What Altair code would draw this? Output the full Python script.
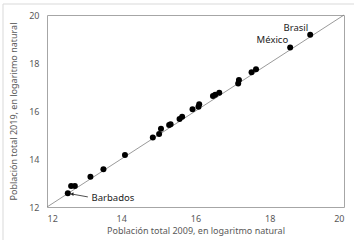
import altair as alt
import pandas as pd

# Data
pop_2009 = [12.56, 12.65, 12.75, 13.17, 13.52, 14.10, 14.85, 15.02, 15.07, 15.29, 15.33,
            15.57, 15.64, 15.92, 16.08, 16.10, 16.47, 16.53, 16.64, 17.15, 17.17,
            17.51, 17.63, 18.55, 19.09]
pop_2019 = [12.57, 12.875, 12.875, 13.26, 13.57, 14.17, 14.90, 15.04, 15.26, 15.42, 15.45,
            15.67, 15.76, 16.07, 16.18, 16.28, 16.62, 16.68, 16.76, 17.15, 17.29,
            17.61, 17.74, 18.65, 19.18]
diag = [12, 20]
ticks = [12, 14, 16, 18, 20]

label_names = ["Brasil", "México"]
label_x = [19.09, 18.55]
label_y = [19.18, 18.65]

barb_name = ["Barbados"]
barb_text_x = [13.20]
barb_text_y = [12.36]
barb_arrow_from = [13.10]
barb_arrow_from_y = [12.42]
barb_pt_x = [12.67]
barb_pt_y = [12.54]

FONT = "Noto Sans"
TXT = "#595959"

pts = pd.DataFrame({"x": pop_2009, "y": pop_2019})
dline = pd.DataFrame({"x": diag, "y": diag})
labs = pd.DataFrame({"x": label_x, "y": label_y, "t": label_names})
barb = pd.DataFrame({"x": barb_text_x, "y": barb_text_y, "t": barb_name,
                     "ax": barb_arrow_from, "ay": barb_arrow_from_y,
                     "px": barb_pt_x, "py": barb_pt_y})

xs = alt.Scale(domain=[12, 20], nice=False, zero=False)
ys = alt.Scale(domain=[12, 20], nice=False, zero=False)

xax = alt.Axis(values=ticks, title="Población total 2009, en logaritmo natural",
               grid=False, ticks=False, domain=False, labelPadding=7, titlePadding=3)
yax = alt.Axis(values=ticks, title="Población total 2019, en logaritmo natural",
               grid=False, ticks=False, domain=False, labelPadding=8, titlePadding=10)

line = alt.Chart(dline).mark_line(color="#808080", strokeWidth=0.8).encode(
    x=alt.X("x:Q", scale=xs, axis=xax),
    y=alt.Y("y:Q", scale=ys, axis=yax),
)

points = alt.Chart(pts).mark_circle(color="black", opacity=1, size=36).encode(
    x="x:Q", y="y:Q"
)

texts = alt.Chart(labs).mark_text(font=FONT, fontSize=9.5, color="#222222",
                                  align="right", baseline="bottom", dx=-2, dy=-2).encode(
    x="x:Q", y="y:Q", text="t:N"
)

btext = alt.Chart(barb).mark_text(font=FONT, fontSize=9.5, color="#222222",
                                  align="left", baseline="middle").encode(
    x="x:Q", y="y:Q", text="t:N"
)

arrow = alt.Chart(barb).mark_rule(color="#222222", strokeWidth=0.8).encode(
    x="ax:Q", y="ay:Q", x2="px:Q", y2="py:Q"
)
head = alt.Chart(barb).mark_point(shape="triangle-left", filled=True, color="#222222",
                                  size=14, opacity=1).encode(
    x="px:Q", y="py:Q"
)

one = pd.DataFrame({"a": [0]})
border_v = alt.Chart(one).mark_rule(color="#d9d9d9", strokeWidth=1).encode(
    x=alt.value(-44), y=alt.value(-11), y2=alt.value(240))
border_h = alt.Chart(one).mark_rule(color="#d9d9d9", strokeWidth=1).encode(
    y=alt.value(-11), x=alt.value(-44), x2=alt.value(320))

chart = alt.layer(border_v, border_h, line, points, texts, btext, arrow, head).properties(
    width=297, height=192,
    background="white",
    autosize=alt.AutoSizeParams(type="none"),
    padding={"left": 47, "top": 15, "right": 10, "bottom": 33},
).configure_view(stroke="#a6a6a6", strokeWidth=1).configure_axis(
    labelFont=FONT, titleFont=FONT, labelFontSize=9, titleFontSize=9,
    labelColor=TXT, titleColor=TXT, titleFontWeight="normal"
)

chart.save("out.html", embed_options={"renderer": "svg", "actions": False})
